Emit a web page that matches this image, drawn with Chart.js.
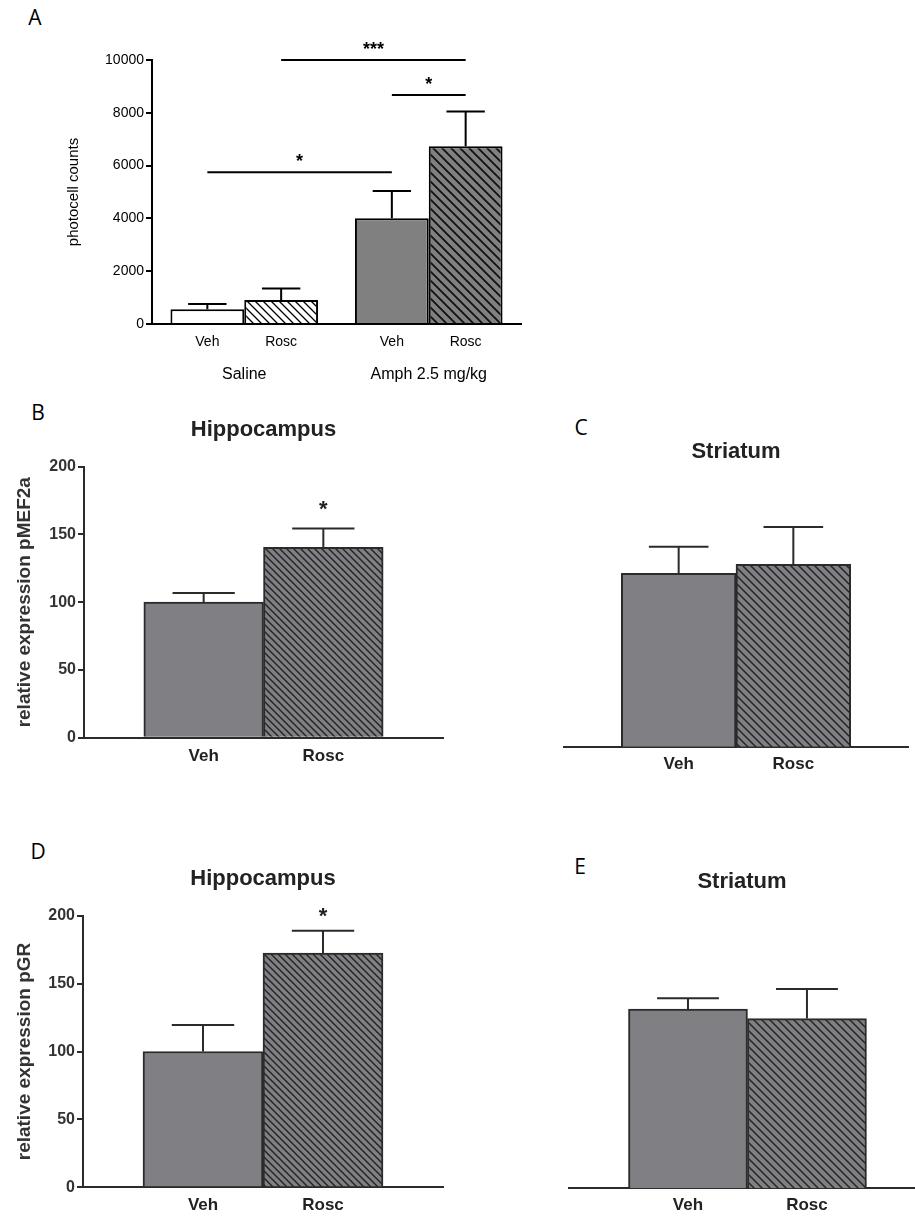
<!DOCTYPE html>
<html>
<head>
<meta charset="utf-8">
<script src="https://cdn.jsdelivr.net/npm/chart.js@4.4.1/dist/chart.umd.min.js"></script>
<style>
  body { margin: 0; background: #fff; width: 915px; height: 1216px; position: relative; overflow: hidden; }
  canvas { position: absolute; }
  .tag { position: absolute; width: 30px; text-align: center; font: 21px "Open Sans", sans-serif; line-height: 1; color: #000; }
</style>
</head>
<body>
<div class="tag" style="left:20px;top:7px">A</div>
<div class="tag" style="left:23px;top:402px">B</div>
<div class="tag" style="left:566px;top:417px">C</div>
<div class="tag" style="left:23px;top:841px">D</div>
<div class="tag" style="left:565px;top:856px">E</div>

<canvas id="chartA" width="560" height="370" style="left:0;top:30px"></canvas>
<canvas id="chartB" width="460" height="380" style="left:0;top:395px"></canvas>
<canvas id="chartC" width="455" height="380" style="left:460px;top:395px"></canvas>
<canvas id="chartD" width="460" height="386" style="left:0;top:830px"></canvas>
<canvas id="chartE" width="455" height="386" style="left:460px;top:830px"></canvas>

<script>
// A - locomotor activity
const groupsA = ['Saline', 'Amph 2.5 mg/kg'];
const treatments = ['Veh', 'Rosc'];
const vehA = [560, 4010];
const vehErrA = [200, 1030];
const roscA = [910, 6730];
const roscErrA = [430, 1320];
// bars numbered group*2 + treatment
const sigBarsA = [[0, 2], [1, 3], [2, 3]];
const sigLevelA = [5750, 10000, 8670];
const sigTextA = ['*', '***', '*'];

// B-E - relative expression (Veh, Rosc)
const meanB = [100, 140.5];
const errB = [6.8, 13.8];
const starB = [null, 173];
const meanC = [128, 134.6];
const errC = [19.6, 27.5];
const meanD = [100, 172.5];
const errD = [19.5, 16.4];
const starD = [null, 204];
const meanE = [132, 125];
const errE = [7.9, 21.8];

const FONT = '"Liberation Sans", Arial, sans-serif';
const GREY = '#808084';

function hatch(bg, line, size, lw) {
    const c = document.createElement('canvas');
    c.width = size; c.height = size;
    const g = c.getContext('2d');
    g.fillStyle = bg;
    g.fillRect(0, 0, size, size);
    g.strokeStyle = line;
    g.lineWidth = lw;
    g.beginPath();
    g.moveTo(-1, -1); g.lineTo(size + 1, size + 1);
    g.moveTo(-1, size - 1); g.lineTo(1, size + 1);
    g.moveTo(size - 1, -1); g.lineTo(size + 1, 1);
    g.stroke();
    return g.createPattern(c, 'repeat');
}

const errorBars = {
    id: 'errorBars',
    afterDatasetsDraw(chart, args, opts) {
        const ctx = chart.ctx, y = chart.scales.y;
        ctx.save();
        ctx.strokeStyle = opts.color;
        ctx.lineWidth = 2;
        chart.data.datasets.forEach((ds, d) => {
            const meta = chart.getDatasetMeta(d);
            meta.data.forEach((bar, i) => {
                const err = ds.errors && ds.errors[i];
                if (!err) return;
                const v = meta.controller.getParsed(i).y;
                const top = y.getPixelForValue(v + err);
                const half = bar.width * 0.26;
                ctx.beginPath();
                ctx.moveTo(bar.x, bar.y);
                ctx.lineTo(bar.x, top);
                ctx.moveTo(bar.x - half, top);
                ctx.lineTo(bar.x + half, top);
                ctx.stroke();
            });
        });
        ctx.restore();
    }
};

const starMarks = {
    id: 'starMarks',
    afterDatasetsDraw(chart) {
        const ctx = chart.ctx, y = chart.scales.y;
        ctx.save();
        ctx.fillStyle = '#222';
        ctx.font = 'bold 22px ' + FONT;
        ctx.textAlign = 'center';
        ctx.textBaseline = 'alphabetic';
        chart.data.datasets.forEach((ds, d) => {
            if (!ds.stars) return;
            chart.getDatasetMeta(d).data.forEach((bar, i) => {
                if (ds.stars[i] == null) return;
                ctx.fillText('*', bar.x, y.getPixelForValue(ds.stars[i]) + 22 * 0.57);
            });
        });
        ctx.restore();
    }
};

// per-bar treatment labels + significance lines for panel A
const panelAExtras = {
    id: 'panelAExtras',
    afterDatasetsDraw(chart) {
        const ctx = chart.ctx, y = chart.scales.y, area = chart.chartArea;
        const bar = (b) => chart.getDatasetMeta(b % 2).data[Math.floor(b / 2)];
        ctx.save();
        ctx.fillStyle = '#000';
        ctx.font = '14px ' + FONT;
        ctx.textAlign = 'center';
        ctx.textBaseline = 'middle';
        for (let b = 0; b < 4; b++) {
            ctx.fillText(treatments[b % 2], bar(b).x, area.bottom + 18);
        }
        ctx.strokeStyle = '#000';
        ctx.lineWidth = 2;
        ctx.font = 'bold 18px ' + FONT;
        ctx.textBaseline = 'alphabetic';
        sigBarsA.forEach((pair, i) => {
            const x1 = bar(pair[0]).x, x2 = bar(pair[1]).x;
            const ly = y.getPixelForValue(sigLevelA[i]);
            ctx.beginPath();
            ctx.moveTo(x1, ly);
            ctx.lineTo(x2, ly);
            ctx.stroke();
            ctx.fillText(sigTextA[i], (x1 + x2) / 2, ly - 5);
        });
        ctx.restore();
    }
};

new Chart(document.getElementById('chartA'), {
    type: 'bar',
    data: {
        labels: groupsA,
        datasets: [
            { label: 'Veh', data: vehA, errors: vehErrA, backgroundColor: ['#ffffff', '#808080'] },
            { label: 'Rosc', data: roscA, errors: roscErrA,
              backgroundColor: [hatch('#ffffff', '#000', 8, 1.3), hatch('#808080', '#111', 9, 1.8)] }
        ]
    },
    options: {
        responsive: false,
        animation: false,
        devicePixelRatio: 1,
        layout: { padding: { left: 65, top: 30, right: 39, bottom: 0 } },
        datasets: { bar: { categoryPercentage: 0.8, barPercentage: 1, borderColor: '#000', borderWidth: 2 } },
        plugins: {
            legend: { display: false },
            tooltip: { enabled: false },
            errorBars: { color: '#000' }
        },
        scales: {
            x: {
                grid: { display: false, drawTicks: false },
                border: { color: '#000', width: 2 },
                ticks: { color: '#000', padding: 41, font: { family: FONT, size: 16 } },
                afterFit: (s) => { s.height = 76; }
            },
            y: {
                min: 0, max: 10000,
                ticks: { stepSize: 2000, color: '#000', padding: 2, font: { family: FONT, size: 14 },
                         callback: (v) => String(v) },
                grid: { drawOnChartArea: false, tickLength: 6, color: '#000', lineWidth: 2 },
                border: { color: '#000', width: 2 },
                title: { display: true, text: 'photocell counts', color: '#000', padding: 0, font: { family: FONT, size: 15 } },
                afterFit: (s) => { s.width = 87; }
            }
        }
    },
    plugins: [errorBars, panelAExtras]
});

function blotChart(id, o) {
    return new Chart(document.getElementById(id), {
        type: 'bar',
        data: {
            datasets: [{
                data: o.means.map((m, i) => ({ x: i + 1, y: m })),
                errors: o.errs,
                stars: o.stars,
                backgroundColor: [GREY, hatch(GREY, '#222', o.hatch, 1.4)],
                borderColor: '#2b2b2b',
                borderWidth: 2,
                categoryPercentage: 1,
                barPercentage: 1
            }]
        },
        options: {
            responsive: false,
            animation: false,
            devicePixelRatio: 1,
            layout: { padding: { left: o.left, right: o.right, top: 0, bottom: 0 } },
            plugins: {
                legend: { display: false },
                tooltip: { enabled: false },
                errorBars: { color: '#2b2b2b' },
                title: {
                    display: true, text: o.title, fullSize: false, color: '#222',
                    font: { family: FONT, size: 22, weight: 'bold' },
                    padding: { top: o.tTop, bottom: o.tBottom }
                }
            },
            scales: {
                x: {
                    type: 'linear', offset: false, min: 0, max: o.xmax,
                    grid: { display: false, drawTicks: false },
                    border: { color: '#2b2b2b', width: 2 },
                    afterBuildTicks: (s) => { s.ticks = treatments.map((t, i) => ({ value: i + 1 })); },
                    ticks: {
                        autoSkip: false, maxRotation: 0, padding: o.xPad, color: '#222',
                        font: { family: FONT, size: 17, weight: 'bold' },
                        callback: (v) => treatments[v - 1]
                    },
                    afterFit: (s) => { s.height = o.xHeight; }
                },
                y: {
                    display: o.axis, min: 0, max: 200,
                    ticks: { stepSize: 50, color: '#333', padding: 2, font: { family: FONT, size: 16, weight: 'bold' } },
                    grid: { drawOnChartArea: false, tickLength: 6, color: '#2b2b2b', lineWidth: 2 },
                    border: { color: '#2b2b2b', width: 2 },
                    title: {
                        display: !!o.ylabel, text: o.ylabel || '', color: '#333', padding: { top: 5, bottom: 0 },
                        font: { family: FONT, size: 19, weight: 'bold' }
                    },
                    afterFit: (s) => { s.width = o.yWidth; }
                }
            }
        },
        plugins: [errorBars, starMarks]
    });
}

blotChart('chartB', { means: meanB, errs: errB, stars: starB, title: 'Hippocampus', ylabel: 'relative expression pMEF2a',
    axis: true, left: 8, right: 17, yWidth: 76, xmax: 3, tTop: 21.8, tBottom: 23.5, xHeight: 37.3, xPad: 8.1, hatch: 7 });
blotChart('chartC', { means: meanC, errs: errC, stars: null, title: 'Striatum', ylabel: null,
    axis: false, left: 104, right: 7, yWidth: 0, xmax: 3, tTop: 43.5, tBottom: 10.8, xHeight: 28.3, xPad: 7.1, hatch: 8 });
blotChart('chartD', { means: meanD, errs: errD, stars: starD, title: 'Hippocampus', ylabel: 'relative expression pGR',
    axis: true, left: 8, right: 17, yWidth: 75, xmax: 3, tTop: 36.1, tBottom: 23.2, xHeight: 28.7, xPad: 8.2, hatch: 7 });
blotChart('chartE', { means: meanE, errs: errE, stars: null, title: 'Striatum', ylabel: null,
    axis: false, left: 109, right: 0, yWidth: 0, xmax: 2.908, tTop: 39.1, tBottom: 21.2, xHeight: 27.7, xPad: 7.2, hatch: 8 });
</script>
</body>
</html>
